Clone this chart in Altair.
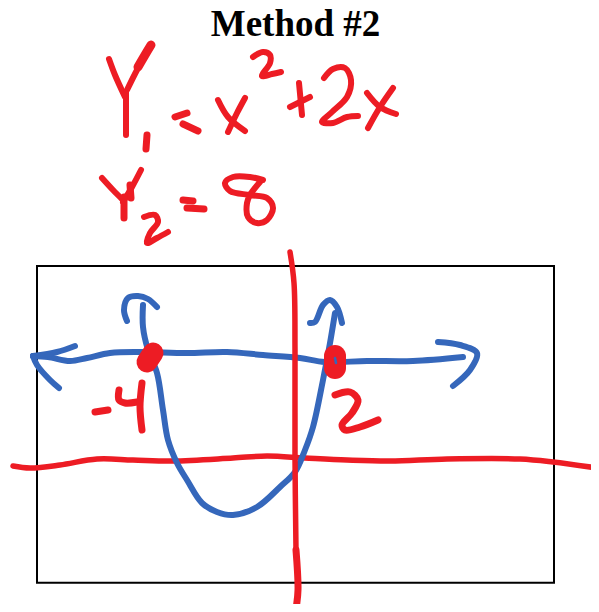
import altair as alt
import pandas as pd

TITLE = "Method #2"
BOX_LEFT, BOX_RIGHT, BOX_TOP, BOX_BOTTOM = 37, 554, 266, 582.7

Y1_LEFT = [(109,59),(115,75),(125,97)]
Y1_STEM = [(126,92),(126,113),(126,135)]
Y1_RIGHT = [(127,90),(137,70),(146,54)]
Y1_RIGHT_FAT = [(138,67),(145,55),(151,45)]
Y1_SUB = [(147,135),(146,149)]
EQ1_TOP = [(175,117),(187,113)]
EQ1_BOT = [(183,124),(198,131)]
X1_A = [(218,100),(228,117),(245,131)]
X1_B = [(245,98),(237,113),(228,132)]
SUP2 = [(253,57),(263,52),(270,55),(270,63),(262,76),(272,74),(281,72)]
PLUS_H = [(290,107),(310,97)]
PLUS_V = [(299,83),(302,115)]
TWO = [(324,78),(333,69),(345,68),(351,80),(347,97),(332,112),(322,122),(333,123),(347,117),(358,116)]
X2_A = [(367,93),(380,107),(396,114)]
X2_B = [(393,88),(380,107),(368,128)]
Y2_LEFT = [(102,178),(113,190),(123,200)]
Y2_RIGHT = [(141,170),(132,187),(123,202)]
Y2_FAT = [(130,185),(131,198)]
Y2_STEM = [(124,197),(124,218)]
SUB2 = [(144,217),(155,215),(158,222),(150,233),(147,243),(157,238),(168,232)]
EQ2_TOP = [(183,200),(193,201)]
EQ2_BOT = [(187,208),(204,209)]
EIGHT = [(263,180),(250,177),(233,177),(225,183),(230,191),(250,195),(267,198),(273,208),(267,220),(257,223),(248,217),(247,203),(250,195),(260,182)]
RED_V = [(290,252),(294,283),(295,350),(295,457),(296,550)]
RED_V_LOW = [(296,550),(298,590),(296,609)]
RED_H = [(13,466),(30,468),(60,465),(97,459),(133,460),(173,461),(233,458),(267,456),(305,458),(347,460),(390,461),(447,459),(520,459),(553,462),(597,468)]
BLUE_H = [(33,356),(48,357),(70,361),(87,358),(110,353),(140,352),(187,353),(227,352),(263,355),(300,358),(325,362),(367,361),(413,361),(463,357)]
ARROW_L_UP = [(75,346),(57,352),(33,356)]
ARROW_L_LOW = [(33,356),(37,365),(50,380),(59,388)]
ARROW_R = [(438,342),(460,345),(477,353),(470,370),(453,386)]
PARABOLA = [(143,305),(143,327),(148,350),(157,373),(163,410),(168,440),(177,463),(187,480),(202,503),(217,512),(233,515),(257,507),(280,487),(295,472),(305,450),(313,427),(323,380),(330,343),(335,313)]
CAP_L = [(127,321),(124,310),(128,298),(138,296),(148,299),(157,307)]
CAP_R = [(310,323),(315,322),(323,305),(330,300),(337,307),(342,323)]
DASH = [(95,412),(108,410)]
FOUR_A = [(119,390),(119,400),(125,403),(137,402)]
FOUR_B = [(142,383),(140,407),(142,430)]
TWO_ROOT = [(335,395),(350,392),(358,400),(352,413),(342,425),(345,430),(360,427),(378,420)]
DOT_L = [(147,362),(153,353)]
DOT_R = [(335,356),(335,368)]
DOT_R_HOLE = [(335,358),(336,363)]

RED = "#ed1c24"
BLUE = "#3567bb"

x_scale = alt.Scale(domain=[8, 591], range=[0, 583], nice=False, zero=False, clamp=False)
y_scale = alt.Scale(domain=[8, 604], range=[0, 596], nice=False, zero=False, clamp=False)
X = alt.X("x:Q", scale=x_scale, axis=None)
Y = alt.Y("y:Q", scale=y_scale, axis=None)


def ink(strokes, color, width):
    rows = [
        {"x": px, "y": py, "stroke": s, "i": i}
        for s, pts in enumerate(strokes)
        for i, (px, py) in enumerate(pts)
    ]
    return (
        alt.Chart(pd.DataFrame(rows))
        .mark_line(color=color, strokeWidth=width, strokeCap="round", strokeJoin="round",
                   interpolate="catmull-rom", clip=False)
        .encode(x=X, y=Y, detail="stroke:N", order="i:Q")
    )


box = (
    alt.Chart(pd.DataFrame([{"x": BOX_LEFT, "x2": BOX_RIGHT, "y": BOX_TOP, "y2": BOX_BOTTOM}]))
    .mark_rect(fill=None, stroke="black", strokeWidth=2)
    .encode(x=X, x2="x2:Q", y=Y, y2="y2:Q")
)
title = (
    alt.Chart(pd.DataFrame([{"x": 295.5, "y": 36, "t": TITLE}]))
    .mark_text(font="Liberation Serif", fontWeight="bold", fontSize=37, align="center",
               baseline="alphabetic", color="black")
    .encode(x=X, y=Y, text="t:N")
)

chart = (
    alt.layer(
        box,
        title,
        ink([RED_H], RED, 5.5),
        ink([Y1_LEFT, Y1_STEM, Y1_RIGHT, X1_A, X1_B, PLUS_H, PLUS_V,
             X2_A, X2_B, SUP2, TWO, Y2_LEFT, Y2_RIGHT, SUB2, EIGHT], RED, 6),
        ink([Y1_RIGHT_FAT], RED, 9),
        ink([Y1_SUB, EQ2_TOP, EQ2_BOT, EQ1_TOP, EQ1_BOT, DASH, FOUR_A, FOUR_B, TWO_ROOT, Y2_FAT, Y2_STEM], RED, 7),
        ink([BLUE_H, ARROW_L_UP, ARROW_L_LOW, ARROW_R, PARABOLA, CAP_L, CAP_R], BLUE, 6),
        ink([RED_V], RED, 5.5),
        ink([RED_V_LOW], RED, 7),
        ink([DOT_L], RED, 21),
        ink([DOT_R], RED, 22),
        ink([DOT_R_HOLE], BLUE, 2.5),
    )
    .properties(width=583, height=596, padding=0, autosize=alt.AutoSizeParams(type="none"), background="white")
    .configure_view(stroke=None)
)

chart.save("out.html", embed_options={"renderer": "svg", "actions": False})
